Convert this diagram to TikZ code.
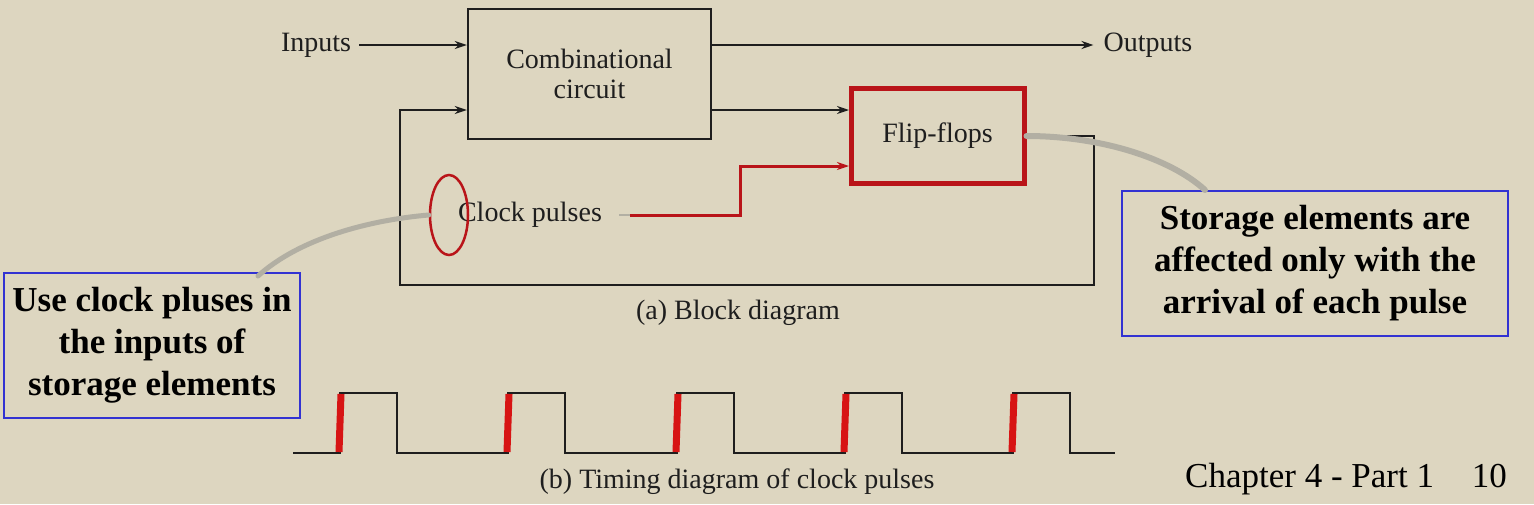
\documentclass[tikz,border=0pt]{standalone}
\usepackage{fontspec}
\setmainfont{Liberation Serif}
\usetikzlibrary{shapes.geometric,arrows.meta,calc}
\definecolor{bgc}{RGB}{221,214,192}
\definecolor{ffred}{RGB}{185,20,25}
\definecolor{tred}{RGB}{215,20,20}
\definecolor{cblue}{RGB}{50,50,210}
\definecolor{ptr}{RGB}{178,175,163}
\definecolor{ink}{RGB}{30,30,30}
\begin{document}
\begin{tikzpicture}[x=1pt,y=-1pt,
 wire/.style={draw=ink,line width=2.2pt},
 arr/.style={wire,-{Stealth[length=12pt,width=8pt]}},
 lbl/.style={font=\fontsize{28}{30}\selectfont,text=ink,inner sep=0pt},
 callout/.style={draw=cblue,line width=1.2pt,font=\bfseries\fontsize{35}{42}\selectfont,align=center,inner sep=0pt},
 pointer/.style={draw=ptr,line width=5pt,line cap=round}
]
\fill[bgc] (0,0) rectangle (1534,504);
\useasboundingbox (0,0) rectangle (1534,504);

% blocks
\node[draw=ink,line width=2.4pt,minimum width=243pt,minimum height=130pt,lbl,align=center] (comb) at (589.5,74) {Combinational\\circuit};
\node[draw=ffred,line width=5pt,minimum width=173pt,minimum height=95pt,lbl] (ff) at (937.5,136) {Flip-flops};
\node[lbl] (in) at (316,45) {Inputs};
\node[lbl] (out) at (1148,45) {Outputs};
\node[lbl] (clk) at (530,215) {Clock pulses};
\node[ellipse,draw=ffred,line width=2.5pt,minimum width=38pt,minimum height=80pt,inner sep=0pt] (ring) at (449,215) {};

\coordinate (ffa) at (849,110);
\coordinate (ffb) at (849,166);
\coordinate (ckb) at (740,166);
\coordinate (fbr) at (1094,285);
\coordinate (fbl) at (400,110);

% connectors
\draw[arr,shorten <=8pt] (in.east) -- (in.east -| comb.west);
\draw[arr,shorten >=10pt] (comb.east |- out.west) -- (out.west);
\draw[arr] (comb.east |- ffa) -- (ffa);
\draw[arr,shorten <=2.5pt] (ff.east) -| (fbr) -| (fbl) -- (fbl -| comb.west);
\draw[draw=ptr,line width=2pt,shorten <=17pt] (clk.east) -- ++(28,0);
\draw[draw=ffred,line width=3pt,shorten <=28pt,-{Stealth[length=12pt,width=8pt]}] (clk.east) -| (ckb) -- (ffb);

% captions
\node[lbl] (capa) at (738,313) {(a) Block diagram};
\node[lbl] (capb) at (737,482) {(b) Timing diagram of clock pulses};

% timing diagram
\draw[draw=ink,line width=2.4pt] (293,453) foreach \x in {340,508,677,845,1013} { -- (\x,453) -- (\x,393) -- (\x+57,393) -- (\x+57,453) } -- (1115,453);
\foreach \x in {340,508,677,845,1013} \draw[tred,line width=7pt] (\x-1,452) -- (\x+1,394);

% callouts
\node[callout,minimum width=296pt,minimum height=145pt] (note1) at (152,345.5) {Use clock pluses in\\the inputs of\\storage elements};
\node[callout,minimum width=386pt,minimum height=145pt] (note2) at (1315,263.5) {Storage elements are\\affected only with the\\arrival of each pulse};
\coordinate (p1) at (258,276);
\coordinate (p2) at (1205,190);
\draw[pointer] (ring.west) .. controls (370,220) and (300,238) .. (p1);
\draw[pointer,line width=6pt] (ff.east) .. controls (1100,136) and (1170,158) .. (p2);

% footer
\node[font=\fontsize{35}{40}\selectfont,anchor=base west,inner sep=0pt] (chap) at (1185,487) {Chapter 4 - Part 1};
\node[font=\fontsize{35}{40}\selectfont,anchor=base east,inner sep=0pt] (pg) at (1507,487) {10};
\end{tikzpicture}
\end{document}
